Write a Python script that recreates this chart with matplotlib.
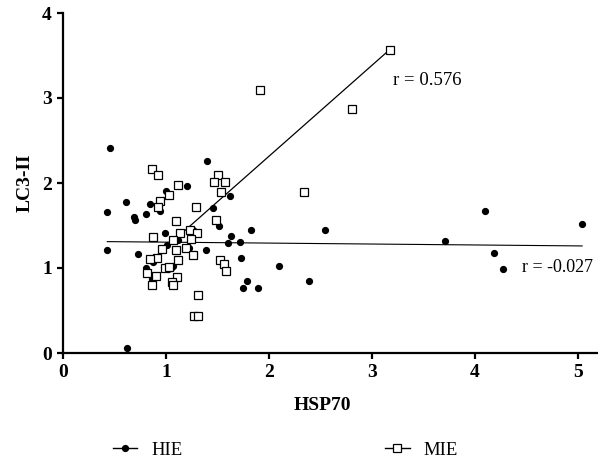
import matplotlib
matplotlib.use("Agg")
import matplotlib.pyplot as plt
import numpy as np
from matplotlib.lines import Line2D

plt.rcParams['font.family'] = ['Liberation Serif', 'DejaVu Serif']

# HIE group (filled dots)
hie_x = [1.40, 1.00, 1.20, 1.62, 0.61, 0.43, 0.845, 0.94, 0.69, 0.70, 0.806, 1.46,
         1.51, 1.83, 1.63, 1.72, 1.60, 1.385, 1.73, 0.99, 1.265, 1.28, 1.01, 1.12,
         1.22, 1.27, 0.43, 0.73, 0.87, 0.81, 1.07, 0.98, 1.02, 1.05, 0.86, 2.10,
         1.79, 1.75, 1.89, 2.385, 0.62, 2.54, 3.71, 4.10, 4.18, 4.27, 5.04, 0.46]
hie_y = [2.26, 1.91, 1.96, 1.85, 1.78, 1.66, 1.75, 1.67, 1.60, 1.57, 1.63, 1.71,
         1.49, 1.45, 1.38, 1.31, 1.29, 1.21, 1.12, 1.41, 1.45, 1.42, 1.27, 1.33,
         1.24, 1.16, 1.21, 1.16, 1.07, 1.00, 1.02, 1.01, 0.99, 1.00, 0.87, 1.02,
         0.85, 0.77, 0.76, 0.85, 0.06, 1.45, 1.32, 1.67, 1.18, 0.99, 1.52, 2.41]

# MIE group (open squares)
mie_x = [0.86, 0.92, 1.12, 1.03, 0.94, 0.92, 1.50, 1.47, 1.57, 1.53, 1.29, 1.485,
         1.10, 2.34, 1.23, 1.30, 1.14, 0.87, 1.07, 1.24, 0.96, 1.10, 1.19, 1.26,
         0.91, 0.845, 1.12, 1.52, 1.56, 1.58, 0.82, 0.90, 1.11, 1.055, 1.07, 0.865,
         1.31, 1.27, 1.31, 0.99, 1.03, 1.915, 2.81, 3.17]
mie_y = [2.16, 2.09, 1.98, 1.86, 1.79, 1.72, 2.09, 2.01, 2.01, 1.89, 1.72, 1.57,
         1.55, 1.89, 1.45, 1.41, 1.41, 1.36, 1.33, 1.34, 1.22, 1.21, 1.24, 1.15,
         1.12, 1.11, 1.10, 1.10, 1.05, 0.97, 0.94, 0.91, 0.89, 0.84, 0.80, 0.80,
         0.68, 0.43, 0.44, 1.00, 1.01, 3.10, 2.87, 3.57]

# regression lines: (slope, intercept) and x-range
hie_fit = (-0.011, 1.315)
hie_range = [0.43, 5.04]
mie_fit = (1.07, 0.175)
mie_range = [0.845, 3.17]

hie_r = "r = -0.027"
mie_r = "r = 0.576"
x_ticks = [0, 1, 2, 3, 4, 5]
y_ticks = [0, 1, 2, 3, 4]

fig = plt.figure(figsize=(5.98, 4.63), dpi=100)
W, H = 598, 463
x0, x1 = 0, 5.4
px_per_x = 103
ax_w = (x1 - x0) * px_per_x
ax = fig.add_axes([63 / W, 110 / H, ax_w / W, 340 / H])
ax.set_xlim(x0, x1)
ax.set_ylim(0, 4)

ax.plot(hie_x, hie_y, 'o', color='black', markersize=4.2, linestyle='none', clip_on=False, zorder=3)
ax.plot(mie_x, mie_y, 's', markerfacecolor='white', markeredgecolor='black',
        markersize=5.2, markeredgewidth=0.9, linestyle='none', clip_on=False, zorder=4)

hx = np.array(hie_range)
ax.plot(hx, hie_fit[0] * hx + hie_fit[1], color='black', linewidth=0.8, zorder=2)
mx = np.array(mie_range)
ax.plot(mx, mie_fit[0] * mx + mie_fit[1], color='black', linewidth=0.9, zorder=2)

ax.text(3.20, 3.21, mie_r, fontsize=13.5, ha='left', va='center')
ax.text(4.46, 1.01, hie_r, fontsize=13, ha='left', va='center')

for s in ['top', 'right']:
    ax.spines[s].set_visible(False)
for s in ['left', 'bottom']:
    ax.spines[s].set_linewidth(1.6)

ax.set_xticks(x_ticks)
ax.set_yticks(y_ticks)
ax.tick_params(axis='both', width=1.6, length=4.5, labelsize=14, pad=3.5)
for lab in ax.get_xticklabels() + ax.get_yticklabels():
    lab.set_fontweight('bold')

ax.set_xlabel('HSP70', fontsize=14, fontweight='bold')
ax.set_ylabel('LC3-II', fontsize=14, fontweight='bold')
ax.xaxis.set_label_coords((322 - 63) / ax_w, (353 - 405) / 340)
ax.xaxis.label.set_va('center')
ax.yaxis.set_label_coords((25 - 63) / ax_w, 0.5)
ax.yaxis.label.set_va('center')

handles = [
    Line2D([], [], color='black', marker='o', markersize=4.2, linewidth=1.0),
    Line2D([], [], color='black', marker='s', markerfacecolor='white', markersize=5.2,
           markeredgewidth=0.9, linewidth=1.0),
]
fig.legend(handles, ['HIE', 'MIE'], loc='center', bbox_to_anchor=(0.4775, 0.027),
           ncol=2, frameon=False, fontsize=13.5, handlelength=1.3,
           handletextpad=0.75, columnspacing=10.8)

fig.savefig('out.png', dpi=100)
